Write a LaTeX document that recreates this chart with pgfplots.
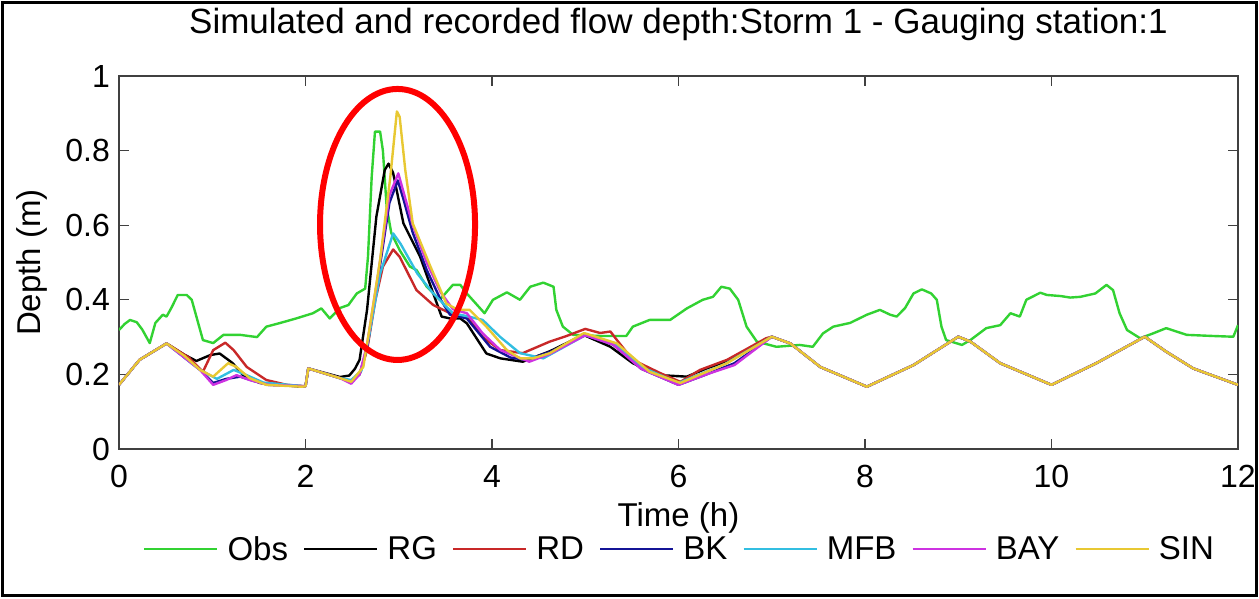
\documentclass[border=0pt]{standalone}
\usepackage{pgfplots}
\pgfplotsset{compat=1.18}
\usepackage{fontspec}
\setmainfont{Liberation Sans}
\definecolor{cObs}{RGB}{50,210,50}
\definecolor{cRD}{RGB}{200,40,40}
\definecolor{cBK}{RGB}{20,20,150}
\definecolor{cMFB}{RGB}{50,190,225}
\definecolor{cBAY}{RGB}{205,50,225}
\definecolor{cSIN}{RGB}{232,200,50}
\begin{document}
\begin{tikzpicture}[x=1pt,y=1pt]
\path[use as bounding box] (-119,-149) rectangle (1140,449);
\draw[line width=2.5pt] (-116.5,-146.5) rectangle (1137.5,446.5);
\begin{axis}[
  at={(0pt,0pt)}, anchor=south west,
  width=1119pt, height=373pt, scale only axis,
  xmin=0, xmax=12, ymin=0, ymax=1,
  xtick={0,2,4,6,8,10,12},
  ytick={0,0.2,0.4,0.6,0.8,1},
  tick align=inside,
  major tick length=10pt,
  axis line style={black!75, line width=1.3pt},
  every tick/.style={black!75, line width=1.3pt},
  tick label style={font=\fontsize{32}{38}\selectfont},
  /pgf/number format/assume math mode=true,
  yticklabel style={anchor=east, inner sep=0pt, xshift=-9pt},
  xticklabel style={anchor=north, inner sep=0pt, yshift=-16pt},
  xlabel={Time (h)},
  ylabel={Depth (m)},
  title={Simulated and recorded flow depth:Storm 1 - Gauging station:1},
  label style={font=\fontsize{33}{40}\selectfont},
  xlabel style={at={(axis description cs:0.5,0)}, anchor=base, inner sep=0pt, yshift=-77pt},
  ylabel style={at={(axis description cs:-0.0775,0.5)}, anchor=center, inner sep=0pt},
  title style={at={(axis description cs:0.5,1)}, anchor=base, inner sep=0pt, yshift=37pt, font=\fontsize{35}{42}\selectfont},
  legend style={at={(axis description cs:0.5,0)}, anchor=center, yshift=-100pt,
    draw=none, fill=none, legend columns=-1, font=\fontsize{33}{40}\selectfont,
    nodes={inner sep=0pt},
    /tikz/every odd column/.append style={column sep=9pt},
    /tikz/every even column/.append style={column sep=15pt}},
  legend image code/.code={\draw[#1] (0pt,0pt) -- (73pt,0pt);},
  every axis plot/.append style={line width=2.4pt, line join=round},
]
% Obs
\addplot[cObs] coordinates {
(0,0.319)(0.06,0.335)(0.118,0.346)(0.19,0.34)(0.25,0.32)(0.33,0.284)(0.39,0.338)(0.47,0.36)(0.51,0.355)(0.565,0.38)(0.63,0.413)(0.726,0.413)(0.78,0.40)(0.83,0.355)(0.90,0.292)(1.01,0.284)(1.12,0.306)(1.30,0.306)(1.48,0.30)(1.58,0.328)(1.73,0.338)(1.90,0.35)(2.08,0.364)(2.17,0.377)(2.26,0.35)(2.37,0.378)(2.46,0.386)(2.55,0.417)(2.64,0.43)(2.67,0.515)(2.71,0.73)(2.745,0.851)(2.80,0.851)(2.83,0.80)(2.87,0.65)(2.92,0.579)(3.01,0.533)(3.12,0.489)(3.19,0.48)(3.30,0.435)(3.44,0.40)(3.58,0.44)(3.66,0.44)(3.73,0.417)(3.92,0.364)(4.01,0.40)(4.16,0.42)(4.30,0.40)(4.41,0.435)(4.55,0.446)(4.66,0.435)(4.69,0.373)(4.76,0.328)(4.87,0.306)(5.16,0.303)(5.44,0.303)(5.51,0.328)(5.69,0.346)(5.91,0.346)(6.09,0.377)(6.26,0.40)(6.37,0.408)(6.46,0.435)(6.55,0.43)(6.64,0.40)(6.73,0.328)(6.84,0.288)(7.05,0.274)(7.30,0.279)(7.44,0.274)(7.55,0.31)(7.66,0.328)(7.84,0.338)(8.02,0.36)(8.16,0.373)(8.27,0.36)(8.34,0.355)(8.43,0.378)(8.52,0.417)(8.61,0.428)(8.71,0.417)(8.77,0.40)(8.82,0.328)(8.87,0.292)(9.04,0.279)(9.13,0.292)(9.30,0.324)(9.45,0.332)(9.56,0.364)(9.66,0.355)(9.73,0.40)(9.88,0.419)(9.95,0.413)(10.10,0.41)(10.20,0.406)(10.31,0.408)(10.47,0.417)(10.59,0.44)(10.66,0.426)(10.73,0.364)(10.81,0.319)(10.95,0.297)(11.09,0.31)(11.23,0.324)(11.45,0.306)(11.73,0.303)(11.95,0.301)(12.0,0.332)
};
\addlegendentry{Obs}
% RG
\addplot[black] coordinates {
(0,0.172)(0.22,0.239)(0.51,0.283)(0.70,0.253)(0.83,0.236)(0.98,0.252)(1.08,0.256)(1.22,0.23)(1.33,0.198)(1.51,0.177)(1.96,0.167)(2.0,0.168)(2.03,0.216)(2.37,0.193)(2.47,0.197)(2.53,0.215)(2.58,0.239)(2.66,0.373)(2.76,0.623)(2.85,0.748)(2.89,0.765)(2.94,0.74)(3.05,0.605)(3.23,0.515)(3.37,0.417)(3.46,0.355)(3.55,0.35)(3.66,0.35)(3.73,0.337)(3.94,0.256)(4.09,0.243)(4.33,0.234)(4.62,0.262)(4.98,0.306)(5.27,0.274)(5.51,0.23)(5.80,0.198)(6.09,0.194)(6.30,0.216)(6.52,0.235)(7.0,0.301)(7.20,0.283)(7.52,0.22)(8.02,0.167)(8.52,0.225)(9.0,0.301)(9.13,0.288)(9.45,0.23)(10.0,0.172)(10.48,0.23)(11.0,0.301)(11.23,0.261)(11.52,0.216)(12.0,0.172)
};
\addlegendentry{RG}
% RD
\addplot[cRD] coordinates {
(0,0.172)(0.22,0.239)(0.51,0.283)(0.75,0.245)(0.90,0.207)(1.01,0.265)(1.14,0.285)(1.23,0.265)(1.37,0.22)(1.58,0.185)(1.80,0.172)(2.0,0.168)(2.03,0.216)(2.37,0.19)(2.49,0.182)(2.58,0.20)(2.66,0.265)(2.75,0.40)(2.83,0.489)(2.94,0.535)(3.01,0.515)(3.19,0.426)(3.37,0.386)(3.55,0.364)(3.73,0.355)(3.90,0.30)(4.09,0.265)(4.33,0.257)(4.62,0.288)(4.80,0.303)(5.00,0.322)(5.16,0.311)(5.27,0.315)(5.34,0.292)(5.51,0.239)(5.80,0.204)(6.02,0.18)(6.23,0.212)(6.52,0.239)(6.94,0.297)(7.0,0.301)(7.20,0.283)(7.52,0.22)(8.02,0.167)(8.52,0.225)(9.0,0.301)(9.13,0.288)(9.45,0.23)(10.0,0.172)(10.48,0.23)(11.0,0.301)(11.23,0.261)(11.52,0.216)(12.0,0.172)
};
\addlegendentry{RD}
% BK
\addplot[cBK] coordinates {
(0,0.172)(0.22,0.239)(0.51,0.283)(0.87,0.212)(1.01,0.177)(1.15,0.188)(1.30,0.194)(1.45,0.182)(1.60,0.172)(2.0,0.168)(2.03,0.216)(2.37,0.19)(2.49,0.183)(2.58,0.20)(2.66,0.27)(2.78,0.46)(2.90,0.66)(2.99,0.72)(3.05,0.67)(3.15,0.58)(3.30,0.48)(3.45,0.40)(3.55,0.36)(3.65,0.355)(3.73,0.35)(3.98,0.274)(4.2,0.245)(4.37,0.239)(4.62,0.26)(5.0,0.305)(5.3,0.28)(5.6,0.215)(6.0,0.172)(6.3,0.20)(6.6,0.23)(7.0,0.301)(7.20,0.283)(7.52,0.22)(8.02,0.167)(8.52,0.225)(9.0,0.301)(9.13,0.288)(9.45,0.23)(10.0,0.172)(10.48,0.23)(11.0,0.301)(11.23,0.261)(11.52,0.216)(12.0,0.172)
};
\addlegendentry{BK}
% MFB
\addplot[cMFB] coordinates {
(0,0.172)(0.22,0.239)(0.51,0.283)(0.87,0.212)(1.05,0.188)(1.23,0.212)(1.35,0.20)(1.55,0.178)(2.0,0.168)(2.03,0.216)(2.37,0.19)(2.49,0.185)(2.60,0.21)(2.68,0.30)(2.80,0.47)(2.94,0.578)(3.02,0.55)(3.2,0.47)(3.37,0.417)(3.58,0.364)(3.75,0.355)(3.90,0.346)(4.09,0.30)(4.30,0.257)(4.55,0.243)(5.0,0.305)(5.3,0.285)(5.6,0.22)(6.0,0.177)(6.5,0.228)(7.0,0.301)(7.20,0.283)(7.52,0.22)(8.02,0.167)(8.52,0.225)(9.0,0.301)(9.13,0.288)(9.45,0.23)(10.0,0.172)(10.48,0.23)(11.0,0.301)(11.23,0.261)(11.52,0.216)(12.0,0.172)
};
\addlegendentry{MFB}
% BAY
\addplot[cBAY] coordinates {
(0,0.172)(0.22,0.239)(0.51,0.283)(0.87,0.212)(1.01,0.172)(1.15,0.185)(1.26,0.198)(1.40,0.185)(1.60,0.172)(2.0,0.168)(2.03,0.216)(2.37,0.19)(2.49,0.175)(2.58,0.20)(2.66,0.28)(2.78,0.47)(2.90,0.68)(2.995,0.739)(3.05,0.69)(3.15,0.60)(3.30,0.50)(3.45,0.42)(3.58,0.375)(3.73,0.364)(3.90,0.31)(4.09,0.265)(4.40,0.234)(4.62,0.255)(5.0,0.305)(5.3,0.28)(5.6,0.215)(6.0,0.172)(6.3,0.20)(6.6,0.225)(7.0,0.301)(7.20,0.283)(7.52,0.22)(8.02,0.167)(8.52,0.225)(9.0,0.301)(9.13,0.288)(9.45,0.23)(10.0,0.172)(10.48,0.23)(11.0,0.301)(11.23,0.261)(11.52,0.216)(12.0,0.172)
};
\addlegendentry{BAY}
% SIN
\addplot[cSIN] coordinates {
(0,0.172)(0.22,0.239)(0.51,0.283)(0.70,0.250)(0.87,0.212)(1.01,0.194)(1.17,0.23)(1.26,0.22)(1.40,0.19)(1.58,0.172)(1.96,0.167)(2.0,0.168)(2.03,0.216)(2.37,0.19)(2.49,0.18)(2.62,0.22)(2.69,0.328)(2.80,0.507)(2.91,0.73)(2.98,0.905)(3.01,0.89)(3.07,0.748)(3.15,0.605)(3.34,0.489)(3.51,0.39)(3.62,0.375)(3.69,0.373)(3.76,0.373)(3.94,0.328)(4.16,0.265)(4.30,0.243)(4.44,0.243)(4.62,0.257)(4.98,0.31)(5.0,0.31)(5.34,0.283)(5.69,0.207)(6.02,0.177)(6.52,0.23)(7.0,0.301)(7.20,0.283)(7.52,0.22)(8.02,0.167)(8.52,0.225)(9.0,0.301)(9.13,0.288)(9.45,0.23)(10.0,0.172)(10.48,0.23)(11.0,0.301)(11.23,0.261)(11.52,0.216)(12.0,0.172)
};
\addlegendentry{SIN}
\draw[red, line width=6pt] (axis cs:2.987,0.602) ellipse [x radius=77.5pt, y radius=135.5pt];
\end{axis}
\end{tikzpicture}
\end{document}
